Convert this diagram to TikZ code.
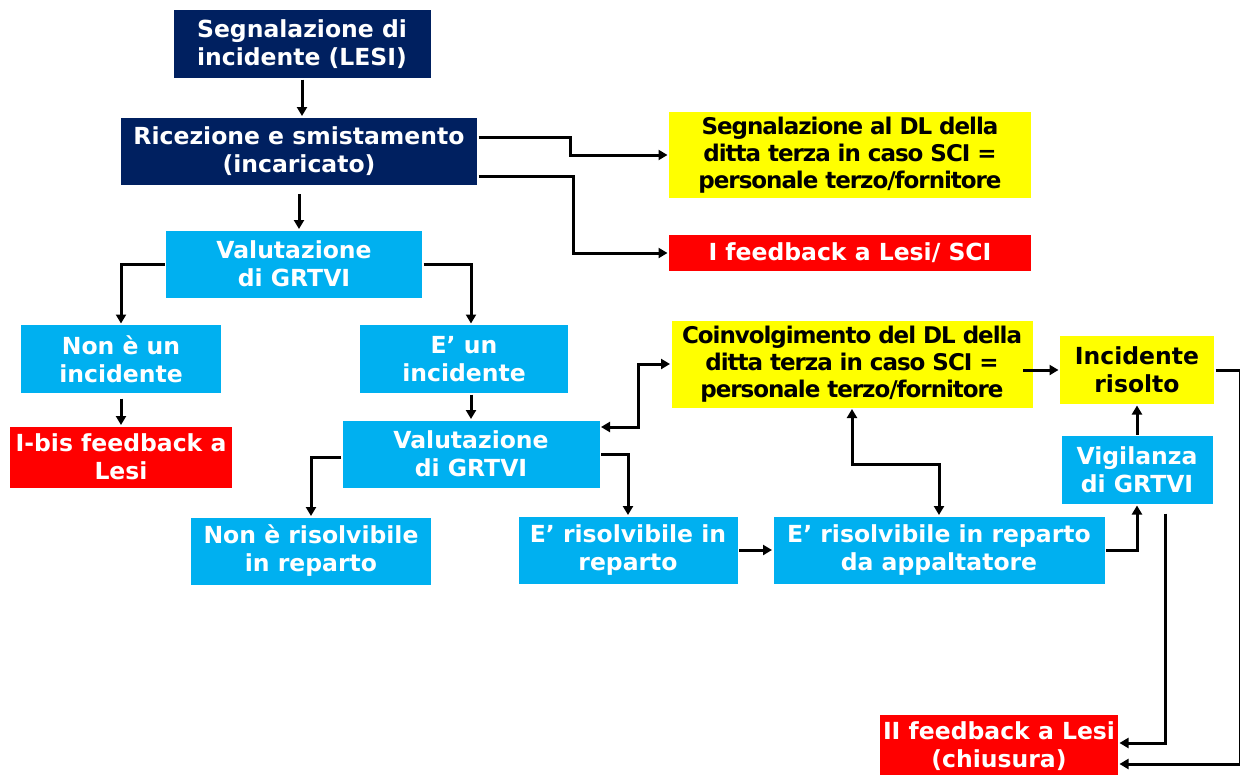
\documentclass[tikz,border=0pt]{standalone}
\usepackage{fontspec}
\setmainfont{DejaVu Sans}
\usetikzlibrary{arrows.meta,calc}
\definecolor{navy}{RGB}{0,32,96}
\definecolor{sky}{RGB}{0,176,240}
\definecolor{lemon}{RGB}{255,255,0}
\definecolor{alarm}{RGB}{255,0,0}
\begin{document}
\begin{tikzpicture}[x=1pt,y=-1pt,line width=3pt,>={Triangle[length=9pt,width=10pt]},
	box/.style={inner sep=0pt, align=center, font=\fontsize{23.5}{28}\selectfont\bfseries},
	darkbox/.style={box, fill=navy, text=white},
	bluebox/.style={box, fill=sky, text=white},
	yellowbox/.style={box, fill=lemon, text=black},
	tightbox/.style={yellowbox, font=\fontsize{23}{27}\selectfont\bfseries\addfontfeature{LetterSpace=-4.5}},
	redbox/.style={box, fill=alarm, text=white}]
	\useasboundingbox (0,0) rectangle (1240,774);
	\node (D1) at ( 302,  44)	[darkbox, minimum width=257pt, minimum height=68pt]	{Segnalazione di\\incidente (LESI)};
	\node (D2) at ( 299, 151)	[darkbox, minimum width=356pt, minimum height=67pt]	{Ricezione e smistamento\\(incaricato)};
	\node (B1) at ( 294, 264)	[bluebox, minimum width=256pt, minimum height=67pt]	{Valutazione\\di GRTVI};
	\node (B2) at ( 121, 359)	[bluebox, minimum width=200pt, minimum height=68pt]	{Non è un\\incidente};
	\node (B3) at ( 464, 359)	[bluebox, minimum width=208pt, minimum height=68pt]	{E’ un\\incidente};
	\node (R2) at ( 121, 457)	[redbox, minimum width=222pt, minimum height=61pt]	{I-bis feedback a\\Lesi};
	\node (B4) at ( 471, 454)	[bluebox, minimum width=257pt, minimum height=67pt]	{Valutazione\\di GRTVI};
	\node (B5) at ( 311, 551)	[bluebox, minimum width=240pt, minimum height=67pt]	{Non è risolvibile\\in reparto};
	\node (B6) at ( 628, 550)	[bluebox, minimum width=219pt, minimum height=67pt]	{E’ risolvibile in\\reparto};
	\node (B7) at ( 939, 550)	[bluebox, minimum width=331pt, minimum height=67pt]	{E’ risolvibile in reparto\\da appaltatore};
	\node (B8) at (1137, 470)	[bluebox, minimum width=151pt, minimum height=68pt]	{Vigilanza\\di GRTVI};
	\node (Y1) at ( 850, 155)	[tightbox, minimum width=362pt, minimum height=86pt]	{Segnalazione al DL della\\ditta terza in caso SCI =\\personale terzo/fornitore};
	\node (R1) at ( 850, 253)	[redbox, minimum width=362pt, minimum height=36pt]	{I feedback a Lesi/ SCI};
	\node (Y2) at ( 852, 364)	[tightbox, minimum width=361pt, minimum height=87pt]	{Coinvolgimento del DL della\\ditta terza in caso SCI =\\personale terzo/fornitore};
	\node (Y3) at (1137, 370)	[yellowbox, minimum width=154pt, minimum height=68pt]	{Incidente\\risolto};
	\node (R3) at ( 999, 746)	[redbox, minimum width=238pt, minimum height=62pt]	{II feedback a Lesi\\(chiusura)};
	\draw[->] (D1.south) -- (D1.south |- D2.north);
	\draw[->, shorten <=8pt] (D2.south) -- (D2.south |- B1.north);
	\draw[->] ($(D2.east)+(0,-14)$) -- ++(92,0) |- (Y1);
	\draw[->] ($(D2.east)+(0,25)$) -- ++(95,0) |- (R1);
	\draw[->] (B1.west) -| (B2);
	\draw[->] (B1.east) -| (B4.north |- B3.north);
	\draw[->] (B4.north |- B3.south) -- (B4);
	\draw[->, shorten <=4pt] (B2) -- (R2);
	\draw[->] ($(B4.west)+(0,3)$) -| (B5);
	\draw[->] (B4.east) -| (B6);
	\draw[<->] ($(B4.east)+(0,-27)$) -- ++(37,0) |- (Y2);
	\draw[<->] (Y2.south) -- ++(0,55) -| (B7);
	\draw[->] ($(Y2.east |- Y3.west)+(-11,0)$) -- (Y3);
	\draw[->] (B6) -- (B7);
	\draw[->] (B7.east) -| (B8);
	\draw[->] (B8) -- (Y3);
	\draw[->, shorten <=8pt] ($(B8.south)+(28,0)$) |- ($(R3.east)+(0,-3)$);
	\draw[->] (Y3.east) -- ++(25,0) |- ($(R3.east)+(0,18)$);
\end{tikzpicture}
\end{document}
